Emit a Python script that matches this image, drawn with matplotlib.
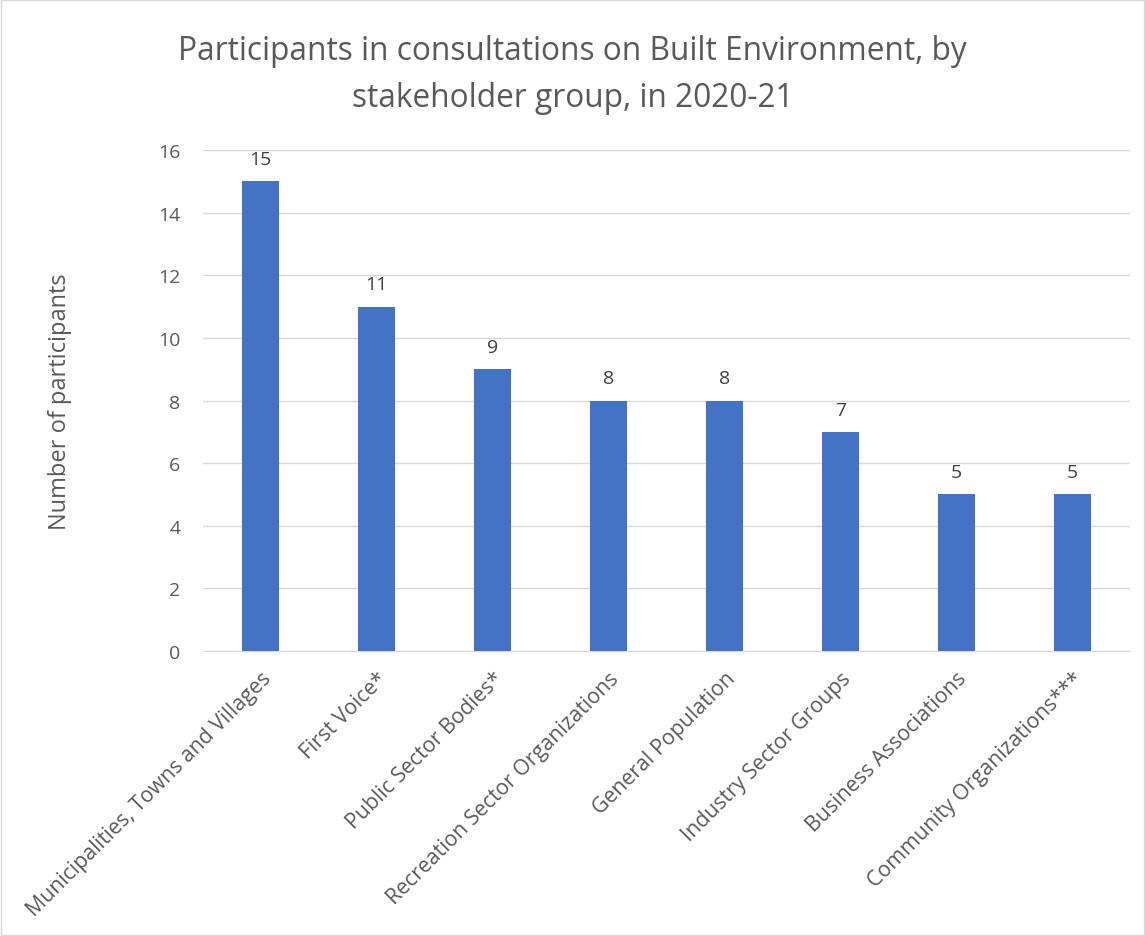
import matplotlib.pyplot as plt

categories = ["Municipalities, Towns and Villages", "First Voice*", "Public Sector Bodies*",
              "Recreation Sector Organizations", "General Population", "Industry Sector Groups",
              "Business Associations", "Community Organizations***"]
participants = [15, 11, 9, 8, 8, 7, 5, 5]
yticks = [0, 2, 4, 6, 8, 10, 12, 14, 16]

plt.rcParams['font.family'] = ['Open Sans', 'DejaVu Sans']
grey = '#595959'

fig = plt.figure(figsize=(11.45, 9.37), dpi=100)
ax = fig.add_axes([0.177, 0.304, 0.81, 0.535])

x = range(len(categories))
bars = ax.bar(x, participants, width=0.32, color='#4472C4', zorder=3)
for b, v in zip(bars, participants):
    ax.text(b.get_x() + b.get_width() / 2, v + 0.42, str(v), ha='center', va='bottom',
            fontsize=14, color='#404040')

ax.set_xlim(-0.5, len(categories) - 0.5)
ax.set_ylim(0, 16)
ax.set_yticks(yticks)
ax.set_yticklabels([str(t) for t in yticks], fontsize=14, color=grey)
ax.set_xticks(list(x))
ax.set_xticklabels(categories, rotation=45, ha='right', rotation_mode='anchor',
                   fontsize=15.3, color=grey)
ax.tick_params(axis='y', length=0, pad=16)
ax.tick_params(axis='x', length=0, pad=12)
ax.grid(axis='y', color='#D9D9D9', linewidth=1, zorder=0)
for s in ['top', 'right', 'left']:
    ax.spines[s].set_visible(False)
ax.spines['bottom'].set_color('#D9D9D9')

ax.set_ylabel('Number of participants', fontsize=17, color=grey, labelpad=62)
fig.text(0.5, 0.92, 'Participants in consultations on Built Environment, by\nstakeholder group, in 2020-21',
         ha='center', va='center', fontsize=22.8, color=grey, linespacing=1.55)

fig.patches.append(plt.Rectangle((0.001, 0.001), 0.998, 0.998, transform=fig.transFigure,
                                 fill=False, edgecolor='#D9D9D9', linewidth=1))

fig.savefig('out.png', dpi=100)
